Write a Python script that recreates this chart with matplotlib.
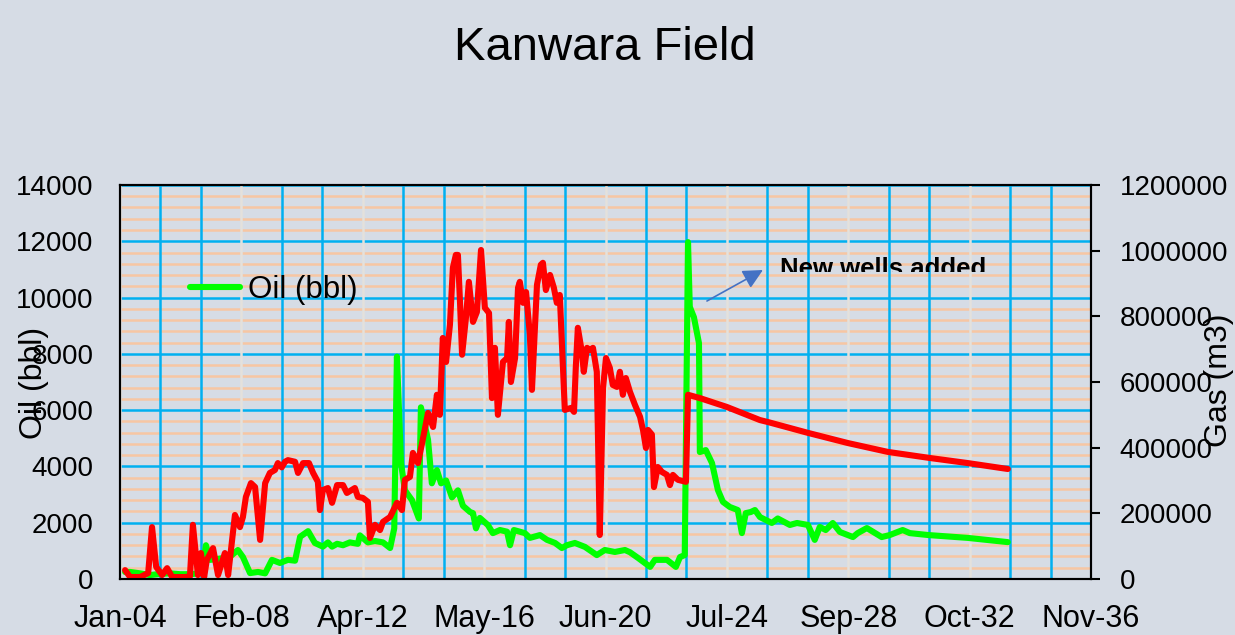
import matplotlib.pyplot as plt
from matplotlib.ticker import MultipleLocator, FixedLocator, StrMethodFormatter
from matplotlib.transforms import Bbox, TransformedBbox

plt.rcParams['font.family'] = ['Liberation Sans', 'DejaVu Sans']

# values, x in decimal years
oil_years = [2004.21, 2004.38, 2004.72, 2005.05, 2005.39, 2005.73, 2006.07, 2006.40,
             2006.74, 2006.84, 2006.94, 2007.08, 2007.25, 2007.58, 2007.82, 2008.02,
             2008.19, 2008.43, 2008.70, 2008.94, 2009.17, 2009.44, 2009.71, 2009.95,
             2010.12, 2010.39, 2010.62, 2010.89, 2011.06, 2011.20, 2011.37, 2011.57,
             2011.80, 2012.07, 2012.14, 2012.41, 2012.65, 2012.92, 2013.16, 2013.30,
             2013.39, 2013.53, 2013.66, 2013.90, 2014.13, 2014.20, 2014.44, 2014.57,
             2014.74, 2014.88, 2015.05, 2015.25, 2015.45, 2015.62, 2015.86, 2015.96,
             2016.06, 2016.19, 2016.46, 2016.63, 2016.87, 2017.11, 2017.21, 2017.34,
             2017.71, 2017.88, 2018.22, 2018.46, 2018.73, 2018.96, 2019.13, 2019.40,
             2019.74, 2020.14, 2020.41, 2020.75, 2021.09, 2021.26, 2021.53, 2021.94,
             2022.10, 2022.51, 2022.81, 2022.95, 2023.11, 2023.22, 2023.28, 2023.42,
             2023.59, 2023.62, 2023.82, 2024.03, 2024.23, 2024.40, 2024.63, 2024.90,
             2025.04, 2025.17, 2025.34, 2025.48, 2025.65, 2026.05, 2026.25, 2026.66,
             2026.90, 2027.27, 2027.50, 2027.67, 2027.87, 2028.11, 2028.35, 2028.79,
             2028.95, 2029.26, 2029.76, 2030.03, 2030.20, 2030.47, 2030.71, 2031.35,
             2032.67, 2034.02]
oil_bbl = [250, 250, 200, 140, 180, 200, 170, 170,
           200, 430, 1200, 680, 700, 750, 850, 1030,
           780, 210, 250, 200, 680, 570, 680, 650,
           1500, 1700, 1280, 1150, 1300, 1150, 1250, 1200,
           1300, 1250, 1550, 1300, 1350, 1300, 1100, 1800,
           7900, 4100, 3150, 2800, 2150, 6100, 4950, 3400,
           3870, 3400, 3500, 2900, 3150, 2600, 2380, 2340,
           1800, 2170, 1920, 1630, 1740, 1680, 1200, 1740,
           1630, 1460, 1560, 1390, 1280, 1100, 1200, 1280,
           1140, 850, 1030, 960, 1030, 950, 750, 430,
           680, 680, 430, 780, 850, 11970, 9670, 9300,
           8380, 4510, 4580, 4120, 3160, 2740, 2560, 2450,
           1630, 2340, 2380, 2450, 2200, 1990, 2150, 1920,
           1990, 1920, 1390, 1850, 1740, 1990, 1670, 1490,
           1630, 1810, 1490, 1560, 1630, 1740, 1630, 1560,
           1460, 1310]

gas_years = [2004.21, 2004.38, 2004.72, 2004.99, 2005.12, 2005.26, 2005.46, 2005.63,
             2005.80, 2006.23, 2006.40, 2006.50, 2006.67, 2006.77, 2006.88, 2006.97,
             2007.18, 2007.35, 2007.58, 2007.69, 2007.92, 2008.09, 2008.19, 2008.29,
             2008.46, 2008.60, 2008.77, 2008.94, 2009.10, 2009.27, 2009.37, 2009.50,
             2009.61, 2009.71, 2009.95, 2010.05, 2010.22, 2010.42, 2010.56, 2010.72,
             2010.79, 2010.89, 2011.06, 2011.20, 2011.37, 2011.57, 2011.70, 2011.97,
             2012.07, 2012.24, 2012.41, 2012.48, 2012.65, 2012.82, 2012.92, 2013.16,
             2013.39, 2013.56, 2013.66, 2013.83, 2013.93, 2014.10, 2014.24, 2014.44,
             2014.61, 2014.74, 2014.84, 2014.94, 2015.05, 2015.18, 2015.28, 2015.38,
             2015.45, 2015.52, 2015.59, 2015.72, 2015.82, 2015.96, 2016.09, 2016.23,
             2016.36, 2016.50, 2016.60, 2016.70, 2016.80, 2016.97, 2017.11, 2017.17,
             2017.24, 2017.38, 2017.48, 2017.54, 2017.65, 2017.75, 2017.88, 2017.95,
             2018.12, 2018.25, 2018.32, 2018.42, 2018.56, 2018.69, 2018.79, 2018.89,
             2019.00, 2019.06, 2019.27, 2019.37, 2019.43, 2019.50, 2019.64, 2019.70,
             2019.81, 2019.91, 2020.01, 2020.14, 2020.24, 2020.35, 2020.45, 2020.58,
             2020.68, 2020.82, 2020.92, 2021.02, 2021.12, 2021.26, 2021.43, 2021.60,
             2021.70, 2021.80, 2021.87, 2022.00, 2022.07, 2022.20, 2022.34, 2022.51,
             2022.61, 2022.71, 2022.88, 2023.15, 2023.22, 2023.62, 2024.53, 2025.65,
             2025.92, 2027.27, 2028.62, 2029.97, 2031.35, 2032.67, 2034.02]
gas_m3 = [27000, 6000, 6000, 18000, 158000, 37000, 12000, 33000,
          6000, 6000, 8000, 165000, 12000, 79000, 6000, 58000,
          94000, 12000, 79000, 12000, 195000, 158000, 189000, 250000,
          292000, 280000, 119000, 292000, 323000, 332000, 353000, 340000,
          357000, 362000, 357000, 323000, 353000, 353000, 323000, 296000,
          210000, 271000, 277000, 232000, 286000, 286000, 262000, 277000,
          250000, 247000, 235000, 125000, 165000, 149000, 174000, 189000,
          232000, 210000, 302000, 311000, 384000, 353000, 414000, 506000,
          463000, 561000, 500000, 734000, 661000, 774000, 948000, 987000,
          987000, 844000, 683000, 795000, 905000, 783000, 813000, 1002000,
          826000, 810000, 551000, 704000, 500000, 661000, 673000, 783000,
          600000, 673000, 887000, 905000, 841000, 874000, 744000, 576000,
          896000, 957000, 963000, 880000, 926000, 887000, 841000, 865000,
          643000, 515000, 521000, 509000, 643000, 765000, 689000, 631000,
          704000, 698000, 704000, 631000, 134000, 582000, 673000, 643000,
          591000, 585000, 631000, 561000, 612000, 570000, 530000, 494000,
          454000, 399000, 454000, 440000, 280000, 341000, 326000, 317000,
          286000, 317000, 302000, 296000, 561000, 551000, 524000, 484000,
          478000, 445000, 414000, 387000, 369000, 353000, 335000]

date_labels = ['Jan-04', 'Feb-08', 'Apr-12', 'May-16', 'Jun-20',
               'Jul-24', 'Sep-28', 'Oct-32', 'Nov-36']

BG = '#D6DCE5'
fig = plt.figure(figsize=(12.35, 6.35), dpi=100, facecolor=BG)
ax = fig.add_axes([0.0972, 0.0882, 0.7862, 0.6205])
ax.set_facecolor(BG)

# date axis: first label at left edge, major unit ~1497 days
x0 = 2004.04
step = 4.0986
ax.set_xlim(x0, x0 + 8 * step)
ax.set_ylim(0, 14000)
ax.xaxis.set_major_locator(FixedLocator([x0 + i * step for i in range(9)]))
ax.xaxis.set_minor_locator(FixedLocator([x0 + i * step / 3 for i in range(25)]))
ax.set_xticklabels(date_labels)
ax.yaxis.set_major_locator(MultipleLocator(2000))
ax.yaxis.set_minor_locator(MultipleLocator(400))
ax.yaxis.set_major_formatter(StrMethodFormatter('{x:.0f}'))
ax.set_axisbelow(True)
# vertical gridlines sit on top of the horizontal ones
ax.yaxis.set_zorder(0.4)
ax.xaxis.set_zorder(0.5)

ax.grid(which='minor', axis='y', color='#F7C6A3', lw=1.8)
ax.grid(which='major', axis='y', color='#00B0F0', lw=1.8)
ax.grid(which='minor', axis='x', color='#00B0F0', lw=1.8)
ax.grid(which='major', axis='x', color='#E4E1DC', lw=1.8)

ax.tick_params(which='both', length=0)
ax.tick_params(axis='x', labelsize=22, pad=18)
ax.tick_params(axis='y', labelsize=20, pad=19)

ax.plot(oil_years, oil_bbl, color='#00FF00', lw=4.4, label='Oil (bbl)',
        solid_joinstyle='round', solid_capstyle='round')

ax2 = ax.twinx()
ax2.set_ylim(0, 1200000)
ax2.yaxis.set_major_locator(MultipleLocator(200000))
ax2.yaxis.set_major_formatter(StrMethodFormatter('{x:.0f}'))
ax2.tick_params(axis='y', direction='out', length=6.5, width=1.5,
                labelsize=20, pad=14)
ax2.plot(gas_years, gas_m3, color='#FF0000', lw=4.4,
         solid_joinstyle='round', solid_capstyle='round')

for a in (ax, ax2):
    for sp in a.spines.values():
        sp.set_color('black')
        sp.set_linewidth(1.5)

ax.legend(loc='center left', bbox_to_anchor=(0.072, 0.7335), frameon=False,
          fontsize=22.5, handlelength=1.6, handletextpad=0.25,
          borderpad=0, borderaxespad=0)

# annotation for the new wells, its label cut off like in the source
ax.annotate('', xy=(2025.75, 10979), xytext=(2023.86, 9877),
            arrowprops=dict(arrowstyle='-|>,head_length=0.5,head_width=0.25',
                            color='#4472C4', lw=1.2, mutation_scale=24,
                            shrinkA=0, shrinkB=0))
t = ax.text(2026.32, 10766, 'New wells added', fontsize=18.5,
            fontweight='bold', ha='left', va='baseline', clip_on=True)
t.set_clip_box(TransformedBbox(Bbox([[770 / 1235, 1 - 272 / 635],
                                     [1010 / 1235, 1 - 245 / 635]]),
                               fig.transFigure))

fig.text(0.49, 0.924, 'Kanwara Field', ha='center', va='center', fontsize=34)
fig.text(34 / 1235, 1 - 383 / 635, 'Oil (bbl)', rotation=90,
         ha='center', va='center', fontsize=23)
fig.text(1219 / 1235, 1 - 380 / 635, 'Gas (m3)', rotation=90,
         ha='center', va='center', fontsize=23)

fig.savefig('out.png', dpi=100, facecolor=BG)
